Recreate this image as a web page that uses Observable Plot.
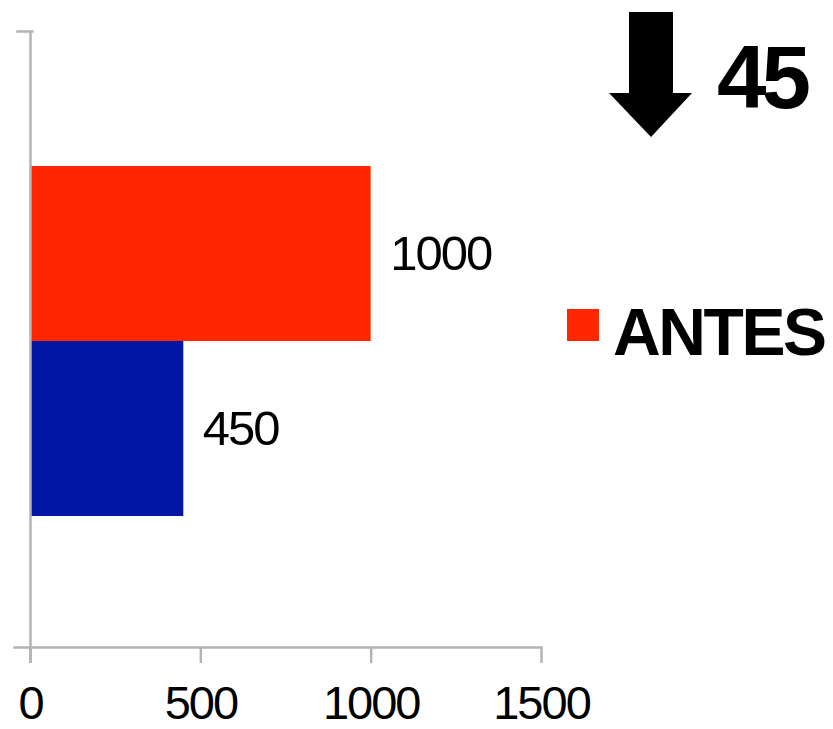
<!DOCTYPE html>
<html>
<head>
<meta charset="utf-8">
<script src="https://cdn.jsdelivr.net/npm/d3@7"></script>
<script src="https://cdn.jsdelivr.net/npm/@observablehq/plot@0.6"></script>
<style>
  body { margin: 0; background: #fff; }
  #chart { position: relative; width: 833px; height: 729px; }
  #chart svg { position: absolute; left: 0; top: 0; }
  .num text { letter-spacing: -2px; }
</style>
</head>
<body>
<div id="chart"></div>
<script>
// Series and values
const series = ["ANTES", "DESPUÉS"];
const values = [1000, 450];
const colors = ["#ff2600", "#0216a6"];
const xTicks = [0, 500, 1000, 1500];
const legendItems = ["ANTES"];
const changeValue = 45;

const rows = series.map((s, i) => ({serie: s, value: values[i]}));
const axisGray = "#b3b3b3";
const font = "'Liberation Sans', Arial, sans-serif";

const chart = Plot.plot({
  width: 833,
  height: 729,
  marginLeft: 30,
  marginRight: 292,
  marginTop: 31,
  marginBottom: 82,
  className: "num",
  style: {fontFamily: font, background: "transparent", overflow: "visible"},
  x: {domain: [0, 1500], axis: null},
  y: {type: "band", domain: series, range: [165, 516], padding: 0, axis: null},
  color: {domain: series, range: colors},
  marks: [
    Plot.barX(rows, {x: "value", y: "serie", fill: "serie"}),
    Plot.text(rows, {
      x: "value", y: "serie", text: d => String(d.value),
      textAnchor: "start", dx: 19, fontSize: 49, fill: "#000"
    }),
    // category axis: baseline, vertical line and top tick
    Plot.frame({anchor: "bottom", stroke: axisGray, strokeWidth: 2.5, insetLeft: -16}),
    Plot.ruleX([0], {stroke: axisGray, strokeWidth: 2.5, insetBottom: -16}),
    Plot.frame({anchor: "top", stroke: axisGray, strokeWidth: 2.5, insetLeft: -13, insetRight: 509}),
    Plot.axisX(xTicks, {
      tickSize: 16, tickPadding: 22, stroke: axisGray, strokeWidth: 2.5,
      fill: "#000", fontSize: 47, label: null, tickFormat: d => String(d)
    })
  ]
});
document.getElementById("chart").append(chart);

// Change annotation and legend
const overlay = d3.create("svg")
  .attr("width", 833).attr("height", 729)
  .style("font-family", font);

overlay.append("path")
  .attr("d", "M629,12H673V93H692L651,137L609,93H629Z")
  .attr("fill", "#000");
overlay.append("text")
  .attr("x", 717).attr("y", 108)
  .attr("font-size", 89).attr("font-weight", "bold")
  .attr("letter-spacing", -5)
  .attr("fill", "#000")
  .text(changeValue);

legendItems.forEach((name, i) => {
  const y = 309 + i * 60;
  overlay.append("rect")
    .attr("x", 567).attr("y", y).attr("width", 32).attr("height", 32)
    .attr("fill", colors[series.indexOf(name)]);
  overlay.append("text")
    .attr("x", 613).attr("y", y + 46)
    .attr("font-size", 66).attr("font-weight", "bold")
    .attr("letter-spacing", -2.4)
    .attr("fill", "#000")
    .text(name);
});
document.getElementById("chart").append(overlay.node());
</script>
</body>
</html>
